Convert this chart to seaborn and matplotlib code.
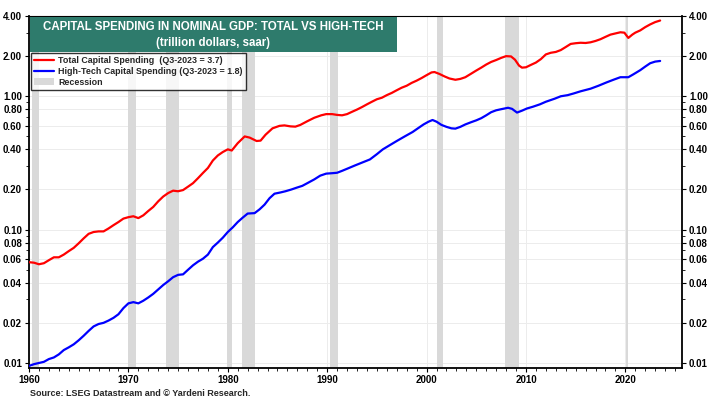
import matplotlib
matplotlib.use('Agg')
import matplotlib.pyplot as plt
import seaborn as sns
import pandas as pd
from matplotlib.lines import Line2D
from matplotlib.patches import Patch, Rectangle
from matplotlib.ticker import FixedLocator, FormatStrFormatter, MultipleLocator, NullFormatter

sns.set_style('white')
plt.rcParams['font.family'] = ['Liberation Sans', 'DejaVu Sans']

# Total capital spending, trillion dollars
total_years = [1960.0, 1960.5, 1961.0, 1961.5, 1962.0, 1962.5, 1963.0, 1963.5, 1964.0, 1964.5,
               1965.0, 1965.5, 1966.0, 1966.5, 1967.0, 1967.5, 1968.0, 1968.5, 1969.0, 1969.5,
               1970.0, 1970.5, 1971.0, 1971.5, 1972.0, 1972.5, 1973.0, 1973.5, 1974.0, 1974.5,
               1975.0, 1975.5, 1976.0, 1976.5, 1977.0, 1977.5, 1978.0, 1978.5, 1979.0, 1979.5,
               1980.0, 1980.4, 1981.0, 1981.7, 1982.2, 1982.9, 1983.3, 1983.8, 1984.5, 1985.2,
               1985.7, 1986.3, 1986.8, 1987.3, 1988.0, 1988.7, 1989.4, 1989.9, 1990.5, 1991.0,
               1991.5, 1992.0, 1992.5, 1993.0, 1993.5, 1994.0, 1994.5, 1995.0, 1995.5, 1996.0,
               1996.5, 1997.0, 1997.5, 1998.0, 1998.5, 1999.0, 1999.5, 2000.0, 2000.5, 2000.8,
               2001.3, 2001.8, 2002.3, 2002.9, 2003.4, 2003.9, 2004.5, 2005.0, 2005.5, 2006.0,
               2006.5, 2007.0, 2007.5, 2008.0, 2008.5, 2008.9, 2009.3, 2009.6, 2010.0, 2010.5,
               2011.0, 2011.5, 2012.0, 2012.5, 2013.0, 2013.5, 2014.0, 2014.5, 2015.0, 2015.5,
               2016.0, 2016.5, 2017.0, 2017.5, 2018.0, 2018.5, 2019.0, 2019.5, 2019.9, 2020.3,
               2020.7, 2021.0, 2021.5, 2022.0, 2022.5, 2023.0, 2023.5]
total_vals = [0.057, 0.0565, 0.055, 0.056, 0.059, 0.062, 0.062, 0.065, 0.069, 0.073,
              0.079, 0.086, 0.093, 0.096, 0.097, 0.097, 0.102, 0.108, 0.114, 0.121,
              0.124, 0.126, 0.122, 0.128, 0.138, 0.148, 0.163, 0.177, 0.188, 0.196,
              0.194, 0.198, 0.210, 0.223, 0.243, 0.266, 0.290, 0.330, 0.360, 0.382,
              0.400, 0.392, 0.445, 0.500, 0.490, 0.462, 0.465, 0.515, 0.575, 0.600,
              0.605, 0.595, 0.592, 0.610, 0.650, 0.690, 0.720, 0.735, 0.735, 0.725,
              0.720, 0.735, 0.765, 0.795, 0.830, 0.870, 0.910, 0.950, 0.975, 1.020,
              1.060, 1.110, 1.160, 1.200, 1.260, 1.310, 1.370, 1.440, 1.510, 1.520,
              1.470, 1.410, 1.360, 1.330, 1.350, 1.390, 1.480, 1.560, 1.640, 1.730,
              1.810, 1.870, 1.940, 2.000, 1.990, 1.880, 1.700, 1.640, 1.650, 1.720,
              1.790, 1.900, 2.060, 2.120, 2.150, 2.220, 2.340, 2.470, 2.500, 2.520,
              2.510, 2.540, 2.600, 2.680, 2.790, 2.900, 2.960, 3.020, 3.000, 2.740,
              2.900, 3.000, 3.120, 3.300, 3.460, 3.600, 3.700]

# High-tech capital spending, trillion dollars
tech_years = [1960.0, 1960.5, 1961.0, 1961.5, 1962.0, 1962.5, 1963.0, 1963.5, 1964.0, 1964.5,
              1965.0, 1965.5, 1966.0, 1966.5, 1967.0, 1967.5, 1968.0, 1968.5, 1969.0, 1969.5,
              1970.0, 1970.5, 1971.0, 1971.5, 1972.0, 1972.5, 1973.0, 1973.5, 1974.0, 1974.5,
              1975.0, 1975.5, 1976.0, 1976.5, 1977.0, 1977.5, 1978.0, 1978.5, 1979.0, 1979.5,
              1980.0, 1980.5, 1981.0, 1981.5, 1982.0, 1982.7, 1983.2, 1983.7, 1984.2, 1984.7,
              1985.3, 1985.8, 1986.4, 1986.9, 1987.5, 1988.0, 1988.7, 1989.3, 1989.9, 1990.5,
              1991.0, 1991.5, 1992.0, 1992.8, 1993.5, 1994.3, 1995.0, 1995.6, 1996.3, 1997.0,
              1997.8, 1998.6, 1999.2, 1999.7, 2000.2, 2000.6, 2001.0, 2001.5, 2002.0, 2002.5,
              2002.9, 2003.4, 2003.9, 2004.5, 2005.0, 2005.5, 2006.0, 2006.5, 2007.0, 2007.5,
              2008.2, 2008.6, 2009.1, 2009.6, 2010.1, 2010.7, 2011.4, 2012.0, 2012.9, 2013.5,
              2014.2, 2014.8, 2015.5, 2016.5, 2017.3, 2018.1, 2018.8, 2019.5, 2020.3, 2020.8,
              2021.5, 2022.0, 2022.5, 2023.0, 2023.5]
tech_vals = [0.0095, 0.0098, 0.0100, 0.0102, 0.0107, 0.0110, 0.0116, 0.0125, 0.0131, 0.0138,
             0.0148, 0.0160, 0.0174, 0.0188, 0.0196, 0.0200, 0.0208, 0.0218, 0.0232, 0.0258,
             0.0280, 0.0286, 0.0280, 0.0293, 0.0310, 0.0330, 0.0356, 0.0384, 0.0410, 0.0440,
             0.0458, 0.0462, 0.0500, 0.0540, 0.0575, 0.0605, 0.0650, 0.0740, 0.0800, 0.0870,
             0.0960, 0.1040, 0.1140, 0.1230, 0.1320, 0.1330, 0.1420, 0.1540, 0.1720, 0.1860,
             0.1900, 0.1940, 0.2000, 0.2060, 0.2130, 0.2230, 0.2380, 0.2540, 0.2630, 0.2650,
             0.2670, 0.2760, 0.2860, 0.3030, 0.3180, 0.3360, 0.3680, 0.4000, 0.4300, 0.4620,
             0.5000, 0.5400, 0.5800, 0.6150, 0.6450, 0.6640, 0.6450, 0.6100, 0.5900, 0.5750,
             0.5720, 0.5900, 0.6150, 0.6400, 0.6600, 0.6850, 0.7200, 0.7600, 0.7850, 0.8000,
             0.8200, 0.8050, 0.7550, 0.7800, 0.8100, 0.8350, 0.8700, 0.9100, 0.9600, 1.0000,
             1.0200, 1.0500, 1.0900, 1.1400, 1.2000, 1.2700, 1.3300, 1.3900, 1.3900, 1.4600,
             1.5700, 1.6700, 1.7700, 1.8200, 1.8400]

recession_start = [1960.33, 1969.92, 1973.83, 1979.95, 1981.45, 1990.3, 2001.1, 2007.85, 2020.05]
recession_end = [1961.05, 1970.75, 1975.1, 1980.42, 1982.75, 1991.05, 2001.7, 2009.3, 2020.22]

y_ticks = [0.01, 0.02, 0.04, 0.06, 0.08, 0.10, 0.20, 0.40, 0.60, 0.80, 1.00, 2.00, 4.00]
x_ticks = [1960, 1970, 1980, 1990, 2000, 2010, 2020]

total_label = 'Total Capital Spending  (Q3-2023 = 3.7)'
tech_label = 'High-Tech Capital Spending (Q3-2023 = 1.8)'

fig = plt.figure(figsize=(7.11, 4.0), dpi=100)
ax = fig.add_axes([29 / 711, 32 / 400, 653 / 711, 352 / 400])

for s, e in zip(recession_start, recession_end):
    ax.axvspan(s, e, color='#d9d9d9', lw=0, zorder=1)

df_total = pd.DataFrame({'year': total_years, 'value': total_vals})
df_tech = pd.DataFrame({'year': tech_years, 'value': tech_vals})
sns.lineplot(data=df_total, x='year', y='value', ax=ax, color='#ff0000', lw=1.6, zorder=3)
sns.lineplot(data=df_tech, x='year', y='value', ax=ax, color='#0000ff', lw=1.6, zorder=3)

ax.set_yscale('log')
ax.set_ylim(0.00917, 4.0)
ax.set_xlim(1960, 2025.7)
ax.set_xlabel('')
ax.set_ylabel('')

ax.yaxis.set_major_locator(FixedLocator(y_ticks))
ax.yaxis.set_major_formatter(FormatStrFormatter('%.2f'))
ax.yaxis.set_minor_formatter(NullFormatter())
ax.xaxis.set_major_locator(FixedLocator(x_ticks))
ax.xaxis.set_minor_locator(MultipleLocator(1))

ax.grid(True, which='major', color='#ececec', lw=0.7, zorder=0)
ax.tick_params(axis='both', which='both', direction='out', labelsize=7.0, colors='black')
ax.tick_params(axis='y', which='both', left=True, right=True, labelleft=True, labelright=True)
ax.tick_params(axis='x', which='both', bottom=True)
ax.tick_params(which='major', length=3, width=0.8)
ax.tick_params(which='minor', length=2, width=0.6)
for lbl in ax.get_xticklabels() + ax.get_yticklabels():
    lbl.set_fontweight('bold')
ax.tick_params(axis='x', pad=2)
ax.tick_params(axis='y', pad=2)

for side in ['left', 'bottom', 'right']:
    ax.spines[side].set_linewidth(1.3)
    ax.spines[side].set_color('black')
ax.spines['top'].set_linewidth(0.8)
ax.spines['top'].set_color('black')

# Title box
ax.add_patch(Rectangle((0.0015, 0.899), 0.5615, 0.098, transform=ax.transAxes,
                       facecolor='#2e7b6c', edgecolor='none', zorder=5))
ax.text(0.282, 0.968, 'CAPITAL SPENDING IN NOMINAL GDP: TOTAL VS HIGH-TECH', transform=ax.transAxes,
        ha='center', va='center', color='white', fontsize=8.3, fontweight='bold', zorder=6)
ax.text(0.282, 0.922, '(trillion dollars, saar)', transform=ax.transAxes,
        ha='center', va='center', color='white', fontsize=8.3, fontweight='bold', zorder=6)

handles = [Line2D([0], [0], color='#ff0000', lw=1.6),
           Line2D([0], [0], color='#0000ff', lw=1.6),
           Patch(facecolor='#d9d9d9', edgecolor='none')]
leg = ax.legend(handles, [total_label, tech_label, 'Recession'], loc='upper left',
                bbox_to_anchor=(0.003, 0.895), borderaxespad=0, frameon=True, fancybox=False,
                prop={'size': 6.4, 'weight': 'bold'}, handlelength=2.2, handleheight=0.8,
                labelspacing=0.2, borderpad=0.35, handletextpad=0.5)
leg.get_frame().set_edgecolor('black')
leg.get_frame().set_linewidth(1.0)
leg.set_zorder(6)

fig.text(30 / 711, 1 - 393 / 400, 'Source: LSEG Datastream and \u00a9 Yardeni Research.',
         fontsize=6.5, fontweight='bold', ha='left', va='center')

fig.savefig('out.png', dpi=100, facecolor='white')
